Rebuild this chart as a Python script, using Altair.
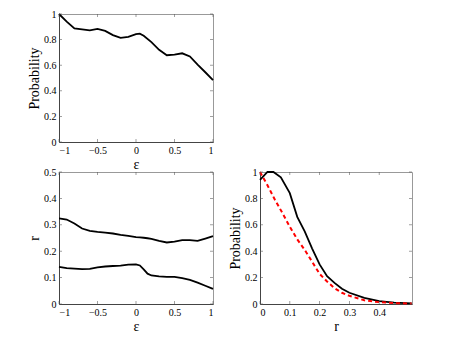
import altair as alt
import pandas as pd

# ---- data ----
eps_top = [-1.0, -0.9, -0.8, -0.7, -0.6, -0.5, -0.4, -0.3, -0.2, -0.1, 0.0, 0.05,
           0.1, 0.2, 0.3, 0.4, 0.5, 0.6, 0.7, 0.8, 0.9, 1.0]
p_top = [1.0, 0.94, 0.887, 0.88, 0.872, 0.883, 0.868, 0.835, 0.813, 0.822, 0.842, 0.846,
         0.83, 0.78, 0.72, 0.678, 0.683, 0.693, 0.668, 0.605, 0.545, 0.484]

eps_r = [-1.0, -0.9, -0.8, -0.7, -0.6, -0.5, -0.4, -0.3, -0.2, -0.1, 0.0, 0.05,
         0.1, 0.15, 0.2, 0.3, 0.4, 0.5, 0.6, 0.7, 0.8, 0.9, 1.0]
r_upper = [0.324, 0.32, 0.305, 0.286, 0.277, 0.273, 0.27, 0.267, 0.262, 0.258, 0.253, 0.252,
           0.251, 0.249, 0.247, 0.239, 0.233, 0.236, 0.242, 0.242, 0.239, 0.248, 0.257]
r_lower = [0.141, 0.136, 0.134, 0.132, 0.133, 0.139, 0.142, 0.144, 0.145, 0.149, 0.15, 0.146,
           0.131, 0.115, 0.108, 0.105, 0.103, 0.103, 0.098, 0.091, 0.081, 0.069, 0.057]

r_black = [0.0, 0.025, 0.045, 0.07, 0.1, 0.125, 0.15, 0.175, 0.2, 0.225, 0.25, 0.275,
           0.3, 0.35, 0.4, 0.45, 0.509]
p_black = [0.94, 1.0, 1.0, 0.96, 0.84, 0.66, 0.55, 0.42, 0.30, 0.21, 0.16, 0.115,
           0.085, 0.047, 0.022, 0.011, 0.004]
r_red = [0.0, 0.025, 0.05, 0.075, 0.1, 0.125, 0.15, 0.175, 0.2, 0.225, 0.25, 0.275,
         0.3, 0.35, 0.4, 0.45, 0.509]
p_red = [1.0, 0.90, 0.79, 0.69, 0.585, 0.49, 0.41, 0.32, 0.228, 0.17, 0.12, 0.085,
         0.062, 0.028, 0.014, 0.007, 0.003]

eps_ticks = [-1, -0.5, 0, 0.5, 1]
prob_ticks = [0, 0.2, 0.4, 0.6, 0.8, 1]
r_ticks_y = [0, 0.1, 0.2, 0.3, 0.4, 0.5]
r_ticks_x = [0, 0.1, 0.2, 0.3, 0.4]

W1, H1 = 154, 128
W2, H2 = 154, 132
W3, H3 = 152, 132

TICK_COLOR = "#555"


def inner_ticks(xfield, xscale, xaxis, xvals, yfield, yscale, yaxis, yvals, W, H):
    xt = pd.DataFrame({xfield: xvals})
    yt = pd.DataFrame({yfield: yvals})
    base_x = alt.Chart(xt).mark_tick(color=TICK_COLOR, size=3, thickness=0.8)
    base_y = alt.Chart(yt).mark_tick(color=TICK_COLOR, size=3, thickness=0.8)
    xa = alt.X(f"{xfield}:Q", scale=xscale, axis=xaxis)
    ya = alt.Y(f"{yfield}:Q", scale=yscale, axis=yaxis)
    return [
        base_x.encode(x=xa, y=alt.value(H - 1.5)),
        base_x.encode(x=xa, y=alt.value(1.5)),
        base_y.encode(y=ya, x=alt.value(1.5)),
        base_y.encode(y=ya, x=alt.value(W - 1.5)),
    ]


# ---- top-left panel ----
xs1 = alt.Scale(domain=[-1, 1], nice=False, zero=False)
ys1 = alt.Scale(domain=[0, 1], nice=False)
xa1 = alt.Axis(values=eps_ticks, format="~g", title="ε")
ya1 = alt.Axis(values=prob_ticks, format="~g", title="Probability")
df_top = pd.DataFrame({"eps": eps_top, "P": p_top})
top_line = alt.Chart(df_top).mark_line(color="black", strokeWidth=1.8).encode(
    x=alt.X("eps:Q", scale=xs1, axis=xa1),
    y=alt.Y("P:Q", scale=ys1, axis=ya1),
)
top = alt.layer(top_line, *inner_ticks("eps", xs1, xa1, eps_ticks, "P", ys1, ya1, prob_ticks, W1, H1)).properties(
    width=W1, height=H1)

# ---- bottom-left panel ----
xs2 = alt.Scale(domain=[-1, 1], nice=False, zero=False)
ys2 = alt.Scale(domain=[0, 0.5], nice=False)
xa2 = alt.Axis(values=eps_ticks, format="~g", title="ε")
ya2 = alt.Axis(values=r_ticks_y, format="~g", title="r")
df_r = pd.DataFrame({
    "eps": eps_r + eps_r,
    "r": r_upper + r_lower,
    "s": ["upper"] * len(eps_r) + ["lower"] * len(eps_r),
})
bl_line = alt.Chart(df_r).mark_line(color="black", strokeWidth=1.8).encode(
    x=alt.X("eps:Q", scale=xs2, axis=xa2),
    y=alt.Y("r:Q", scale=ys2, axis=ya2),
    detail="s:N",
)
bl = alt.layer(bl_line, *inner_ticks("eps", xs2, xa2, eps_ticks, "r", ys2, ya2, r_ticks_y, W2, H2)).properties(
    width=W2, height=H2)

# ---- bottom-right panel ----
xs3 = alt.Scale(domain=[0, 0.51], nice=False)
ys3 = alt.Scale(domain=[0, 1], nice=False)
xa3 = alt.Axis(values=r_ticks_x, format="~g", title="r")
ya3 = alt.Axis(values=prob_ticks, format="~g", title="Probability")
df_b = pd.DataFrame({"rr": r_black, "P": p_black})
df_red = pd.DataFrame({"rr": r_red, "P": p_red})
br_black = alt.Chart(df_b).mark_line(color="black", strokeWidth=1.8).encode(
    x=alt.X("rr:Q", scale=xs3, axis=xa3),
    y=alt.Y("P:Q", scale=ys3, axis=ya3),
)
br_red = alt.Chart(df_red).mark_line(color="#ff0000", strokeWidth=2, strokeDash=[4, 3]).encode(
    x=alt.X("rr:Q", scale=xs3, axis=xa3),
    y=alt.Y("P:Q", scale=ys3, axis=ya3),
)
br = alt.layer(br_black, br_red, *inner_ticks("rr", xs3, xa3, r_ticks_x, "P", ys3, ya3, prob_ticks, W3, H3)).properties(
    width=W3, height=H3)

bottom = alt.hconcat(bl, br, spacing=47, bounds="flush")
chart = alt.vconcat(top, bottom, spacing=30, bounds="flush").properties(
    padding={"left": 19, "top": 0, "right": 5, "bottom": 5}
).configure_axis(
    labelFont="Liberation Serif",
    labelFontSize=10,
    labelColor="black",
    labelPadding=3,
    titleFont="Liberation Serif",
    titleFontSize=14,
    titleFontWeight="normal",
    titleColor="black",
    titlePadding=2,
    ticks=False,
    grid=False,
    domainColor="#444",
    domainWidth=1,
).configure_view(stroke="#999", strokeWidth=1)

chart.save("out.html", embed_options={"renderer": "svg", "actions": False})
